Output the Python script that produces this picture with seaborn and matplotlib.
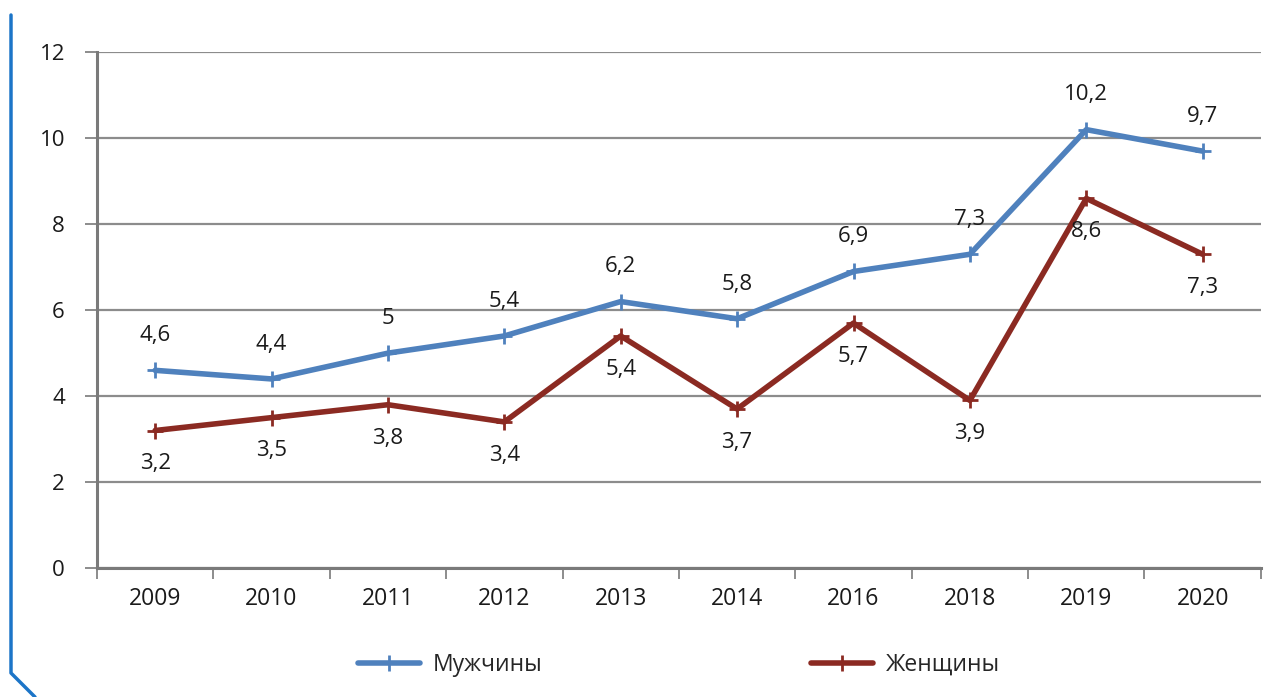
import numpy as np
import pandas as pd
import matplotlib.pyplot as plt
import seaborn as sns
from matplotlib.lines import Line2D

years = ["2009", "2010", "2011", "2012", "2013", "2014", "2016", "2018", "2019", "2020"]
men = [4.6, 4.4, 5.0, 5.4, 6.2, 5.8, 6.9, 7.3, 10.2, 9.7]
women = [3.2, 3.5, 3.8, 3.4, 5.4, 3.7, 5.7, 3.9, 8.6, 7.3]
men_name = "Мужчины"
women_name = "Женщины"

sns.set_style("white")
plt.rcParams["font.family"] = ["Open Sans", "DejaVu Sans"]

fig = plt.figure(figsize=(12.84, 6.97), dpi=100)
ax = fig.add_axes([0.0755, 0.185, 0.9065, 0.740])

colors = {men_name: "#4F81BD", women_name: "#8B2A22"}
for name, vals in ((men_name, men), (women_name, women)):
    sns.lineplot(x=years, y=vals, color=colors[name], sort=False,
                 marker="+", markersize=12, markeredgewidth=2,
                 markeredgecolor=colors[name], linewidth=4, ax=ax)

ax.set_xlim(-0.5, len(years) - 0.5)
ax.set_ylim(0, 12)
ax.set_yticks(range(0, 13, 2))
ax.yaxis.grid(True, color="#8c8c8c", linewidth=1.6)
ax.set_axisbelow(True)

for s in ["top", "right"]:
    ax.spines[s].set_visible(False)
for s in ["left", "bottom"]:
    ax.spines[s].set_color("#7a7a7a")
    ax.spines[s].set_linewidth(2.2)

ax.set_xticks(range(len(years)))
ax.set_xticklabels(years)
ax.set_xticks(np.arange(-0.5, len(years), 1), minor=True)
ax.tick_params(axis="x", which="major", bottom=True, length=0, pad=14,
               labelsize=16.5, labelcolor="#1a1a1a")
ax.tick_params(axis="x", which="minor", bottom=True, length=8, width=1.4,
               color="#8c8c8c", direction="out")
ax.tick_params(axis="y", left=True, length=9, width=1.4, color="#8c8c8c", direction="out",
               pad=14, labelsize=16, labelcolor="#1a1a1a")

def fmt(v):
    return str(int(v)) if v == int(v) else str(v).replace(".", ",")

for i, v in enumerate(men):
    ax.annotate(fmt(v), (i, v), xytext=(0, 25), textcoords="offset points",
                ha="center", va="center", fontsize=16, color="#1a1a1a")
for i, v in enumerate(women):
    ax.annotate(fmt(v), (i, v), xytext=(0, -24), textcoords="offset points",
                ha="center", va="center", fontsize=16, color="#1a1a1a")

handles = [Line2D([], [], color=colors[n], linewidth=4, marker="+", markersize=12,
                  markeredgewidth=2, solid_capstyle="round") for n in (men_name, women_name)]
fig.legend(handles, [men_name, women_name], loc="center", bbox_to_anchor=(0.529, 0.046),
           ncol=2, frameon=False, fontsize=16.5, handlelength=2.7, columnspacing=11.7,
           handletextpad=0.57)

# decorative blue frame line on the left
fig.add_artist(Line2D([11 / 1284, 11 / 1284, 35 / 1284], [1 - 15 / 697, 1 - 673 / 697, 0],
                      color="#1C75C8", linewidth=2.5, transform=fig.transFigure))

fig.savefig("out.png", dpi=100)
